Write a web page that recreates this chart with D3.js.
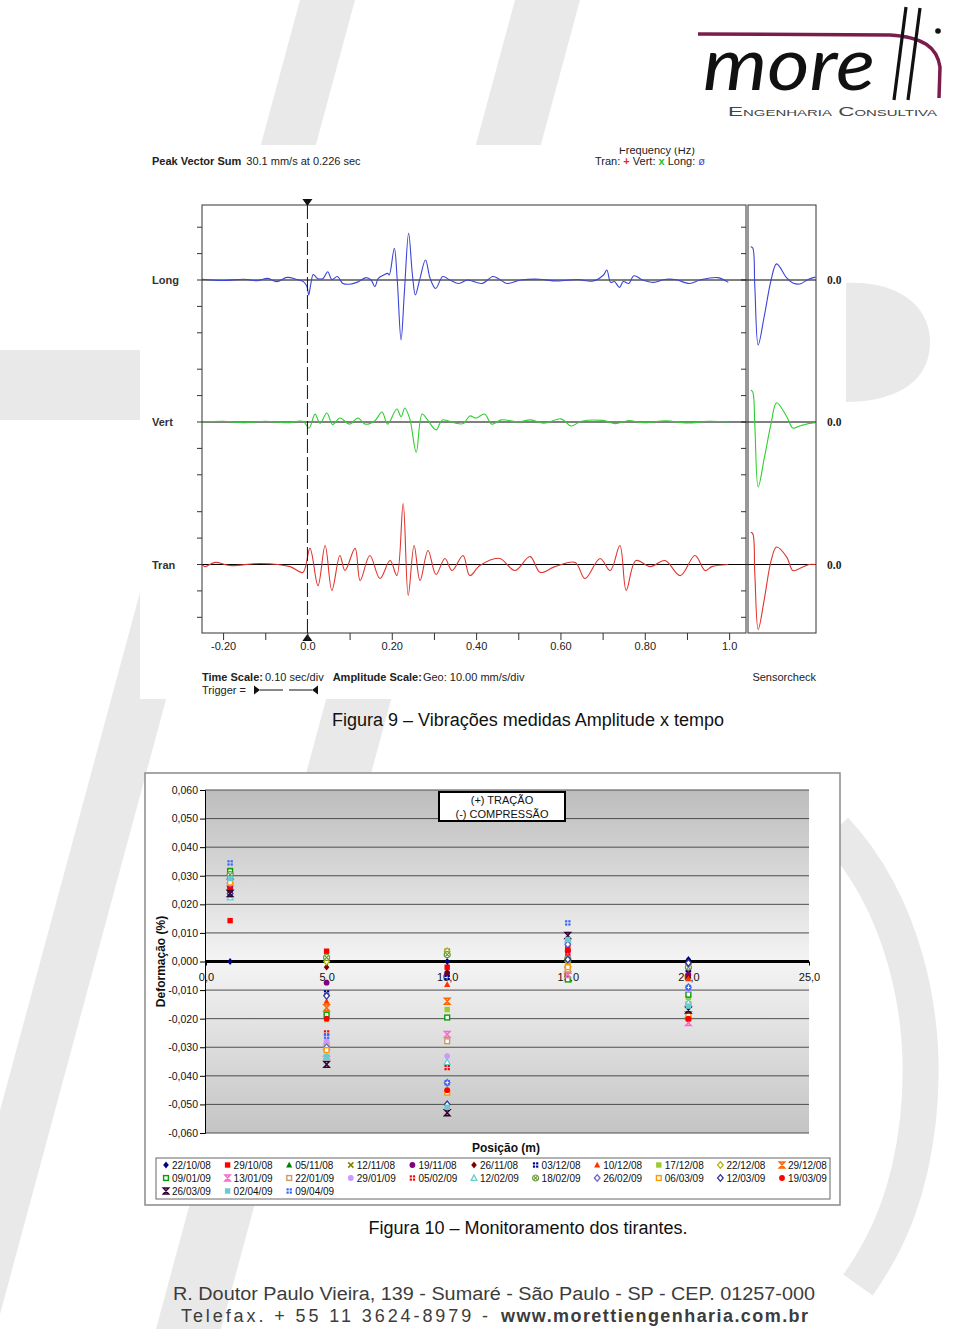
<!DOCTYPE html>
<html lang="pt-BR">
<head>
<meta charset="utf-8">
<title>Figuras 9 e 10</title>
<script src="https://cdn.jsdelivr.net/npm/d3@7/dist/d3.min.js"></script>
<style>
  html, body { margin: 0; padding: 0; background: #fff; }
  svg { display: block; }
</style>
</head>
<body>
<svg id="page"></svg>
<script>
// ---------- Figura 9: vibration record (time in s, amplitude in mm/s) ----------
const timeTicks = [-0.2, -0.1, 0, 0.1, 0.2, 0.3, 0.4, 0.5, 0.6, 0.7, 0.8, 0.9, 1.0];
const timeTickLabels = ['-0.20', '', '0.0', '', '0.20', '', '0.40', '', '0.60', '', '0.80', '', '1.0'];
const ampTicks = [-20, -10, 0, 10, 20];

const longT = [-0.25, -0.2, -0.15, -0.12, -0.094, -0.073, -0.048, -0.027, -0.0095, -0.001, 0.003, 0.008,
  0.014, 0.024, 0.037, 0.048, 0.058, 0.071, 0.084, 0.1, 0.117, 0.139, 0.151, 0.16, 0.168, 0.181, 0.19,
  0.194, 0.206, 0.213, 0.222, 0.23, 0.24, 0.249, 0.256, 0.266, 0.28, 0.291, 0.304, 0.321, 0.338, 0.359,
  0.38, 0.414, 0.44, 0.456, 0.473, 0.507, 0.55, 0.592, 0.64, 0.677, 0.702, 0.71, 0.719, 0.728, 0.74,
  0.749, 0.762, 0.774, 0.795, 0.821, 0.846, 0.872, 0.906, 0.931, 0.973, 0.998];
const longV = [0.3, -0.2, 0.3, -0.3, 0.6, -0.6, 1.0, 0.3, -0.6, -2.5, -5.7, -1.5,
  2.1, 0.6, 0.6, 3.1, 0.2, 1.3, -1.3, -1.6, -0.9, 0.9, 0, -2.5, 0.6, 1.9, 2.5,
  1.9, 12.0, 0, -22.7, -4.4, 17.7, 1.9, -5.7, 0, 7.6, 0.6, -3.2, 1.3, 0, -1.3,
  0, -1.3, 1.3, 0.2, -1.3, 0, 0.3, -0.4, 0.2, -0.4, 1.9, 3.8, -0.9, -0.6, -2.8,
  -0.6, -1.3, 1.6, 0, -0.9, 0.2, 0.2, -1.3, 0, 0.9, -0.9];

const vertT = [-0.25, -0.2, -0.15, -0.1, -0.05, -0.01, 0.004, 0.018, 0.03, 0.046, 0.06, 0.077, 0.1,
  0.12, 0.137, 0.16, 0.177, 0.19, 0.212, 0.222, 0.231, 0.243, 0.258, 0.272, 0.285, 0.305, 0.32, 0.35,
  0.37, 0.385, 0.4, 0.42, 0.437, 0.46, 0.5, 0.53, 0.56, 0.6, 0.61, 0.625, 0.65, 0.7, 0.73, 0.76, 0.8,
  0.85, 0.9, 0.95, 1.0];
const vertV = [0, 0.3, -0.3, 0.3, -0.3, 0.2, -2.3, 3.0, -0.5, 3.4, -1.0, 1.5, -0.8,
  1.5, -0.8, 0.5, 3.8, -0.8, 4.9, 2.0, 5.3, 1.0, -11.4, 3.0, 0.8, -3.0, 0.8, -0.4,
  -0.6, 2.3, 1.5, 3.0, -0.8, 0.8, 0, 0.8, -0.5, 1.2, 0.4, -1.5, 0.3, 0.6, -0.6, 0.5, -0.3,
  0.5, -0.4, 0.3, 0];

const tranT = [-0.25, -0.243, -0.219, -0.184, -0.112, -0.041, -0.011, 0.006, 0.025, 0.042, 0.058, 0.077,
  0.089, 0.113, 0.125, 0.148, 0.172, 0.196, 0.212, 0.227, 0.239, 0.253, 0.267, 0.286, 0.305, 0.326,
  0.343, 0.369, 0.385, 0.409, 0.456, 0.492, 0.528, 0.552, 0.587, 0.635, 0.658, 0.694, 0.718, 0.741,
  0.756, 0.779, 0.813, 0.848, 0.884, 0.919, 0.943, 0.959, 0.997];
const tranV = [0, -0.8, 0.8, -0.4, 0.4, -0.8, -3.0, 6.1, -8.0, 7.2, -9.8, 3.4,
  -2.3, 6.1, -6.1, 3.4, -5.3, 1.5, -4.2, 23.1, -11.7, 7.2, -6.1, 5.3, -3.8, 2.3,
  -2.3, 3.4, -4.2, -0.4, 2.3, -2.3, 3.0, -3.0, -0.8, 0.8, -5.3, 2.3, -2.3, 7.2,
  -9.8, 1.5, -0.8, 1.5, -4.2, 3.4, -2.3, -0.8, 0];

// sensor check panel (relative time 0..1)
const checkT = [0.04, 0.07, 0.1, 0.15, 0.24, 0.34, 0.42, 0.57, 0.66, 0.76, 0.9, 0.99];
const checkLong = [12.6, 12.1, -2.3, -24.6, -13.6, 0, 6.1, 0.8, -1.1, -1.5, 0.4, 1.1];
const checkVert = [12.1, 11.4, -1.1, -24.6, -13.6, -0.5, 7.3, 2.0, -2.3, -1.5, -0.6, -0.3];
const checkTran = [12.2, 11.7, -3.4, -24.6, -13.1, 1.5, 6.6, 2.8, -2.3, -1.5, 0, 0];

// ---------- Figura 10: monitoring of tie rods ----------
const posicoes = [1, 5, 10, 15, 20];
const datas = ['22/10/08', '29/10/08', '05/11/08', '12/11/08', '19/11/08', '26/11/08', '03/12/08',
  '10/12/08', '17/12/08', '22/12/08', '29/12/08', '09/01/09', '13/01/09', '22/01/09', '29/01/09',
  '05/02/09', '12/02/09', '18/02/09', '26/02/09', '06/03/09', '12/03/09', '19/03/09', '26/03/09',
  '02/04/09', '09/04/09'];
const coresSerie = ['#000080', '#ff0000', '#008000', '#808000', '#800080', '#800000', '#000099',
  '#ff3300', '#99cc33', '#b3b300', '#ff6600', '#00a000', '#ff66cc', '#cc9966', '#cc99ff',
  '#ff0000', '#66cccc', '#669933', '#6666cc', '#ff9900', '#333399', '#ff0000', '#330033',
  '#66cccc', '#3366ff'];
const formasSerie = ['diamond', 'square', 'triangle', 'times', 'circle', 'diamond', 'grid',
  'triangle', 'square', 'opendiamond', 'hourglass', 'opensquare', 'hourglass', 'opensquare', 'circle',
  'grid', 'opentriangle', 'circlex', 'opendiamond', 'opensquare', 'opendiamond', 'circle', 'hourglass',
  'square', 'grid'];
const deformacao = [
  [0.0000, 0.0000, 0.0000, 0.0010, 0.0007],
  [0.0143, 0.0036, -0.0020, 0.0049, -0.0028],
  [0.0310, 0.0010, 0.0030, -0.0004, -0.0050],
  [0.0304, 0.0014, 0.0036, 0.0007, -0.0016],
  [0.0260, -0.0074, -0.0040, 0.0036, -0.0046],
  [0.0250, -0.0020, -0.0039, -0.0056, -0.0056],
  [0.0270, -0.0110, -0.0056, 0.0066, -0.0028],
  [0.0260, -0.0139, -0.0080, 0.0049, -0.0060],
  [0.0320, -0.0203, -0.0168, -0.0014, -0.0126],
  [0.0310, 0.0000, 0.0036, 0.0000, -0.0010],
  [0.0276, -0.0162, -0.0139, -0.0030, -0.0186],
  [0.0316, -0.0186, -0.0196, -0.0063, -0.0116],
  [0.0263, -0.0320, -0.0255, -0.0046, -0.0214],
  [0.0290, -0.0294, -0.0279, -0.0028, -0.0150],
  [0.0280, -0.0279, -0.0331, 0.0020, -0.0100],
  [0.0252, -0.0250, -0.0371, 0.0030, -0.0200],
  [0.0224, -0.0333, -0.0352, 0.0077, -0.0144],
  [0.0304, 0.0014, 0.0024, 0.0010, -0.0020],
  [0.0290, -0.0300, -0.0424, 0.0060, -0.0090],
  [0.0276, -0.0310, -0.0459, -0.0020, -0.0186],
  [0.0238, -0.0120, -0.0500, 0.0007, -0.0005],
  [0.0252, -0.0200, -0.0450, 0.0040, -0.0200],
  [0.0238, -0.0360, -0.0529, 0.0091, -0.0170],
  [0.0290, -0.0333, -0.0510, 0.0077, -0.0156],
  [0.0345, -0.0261, -0.0424, 0.0135, -0.0091]
];
const yTicks2 = [-0.06, -0.05, -0.04, -0.03, -0.02, -0.01, 0, 0.01, 0.02, 0.03, 0.04, 0.05, 0.06];
const xTicks2 = [0, 5, 10, 15, 20, 25];

// ---------- drawing ----------
const W = 960, H = 1329;
const SANS = "'Liberation Sans', Arial, sans-serif";
const NARROW = "'Liberation Sans Narrow', 'Liberation Sans', Arial, sans-serif";
const SERIF = "'Liberation Serif', 'Times New Roman', serif";
const WM = '#e9e9e9';

const svg = d3.select('#page').attr('width', W).attr('height', H);
const defs = svg.append('defs');

// watermark behind everything
const wm = svg.append('g').attr('fill', WM);
wm.append('path').attr('d', 'M300,0L355,0L-4,1329L-59,1329Z');
wm.append('path').attr('d', 'M515,0L580,0L221,1329L156,1329Z');
wm.append('rect').attr('x', 0).attr('y', 350).attr('width', 140).attr('height', 70);
wm.append('path').attr('d', 'M845,283C900,280 932,308 930,345C928,385 892,402 845,402Z');
wm.append('path')
  .attr('d', 'M835,830C900,900 930,1010 918,1120C910,1190 890,1240 858,1285')
  .attr('fill', 'none').attr('stroke', WM).attr('stroke-width', 36);

// logo
const logo = svg.append('g');
logo.append('path')
  .attr('d', 'M698,34L890,35C923,37 937,47 940,67L939,98')
  .attr('fill', 'none').attr('stroke', '#7b1d4b').attr('stroke-width', 3.5);
logo.append('text')
  .attr('x', 703).attr('y', 90)
  .attr('font-family', "Lato, 'Liberation Sans', sans-serif")
  .attr('font-style', 'italic').attr('font-size', 72)
  .attr('textLength', 172).attr('lengthAdjust', 'spacingAndGlyphs')
  .attr('fill', '#111').text('more');
logo.append('line').attr('x1', 894).attr('y1', 100).attr('x2', 906).attr('y2', 7)
  .attr('stroke', '#111').attr('stroke-width', 3.2);
logo.append('line').attr('x1', 908).attr('y1', 100).attr('x2', 920).attr('y2', 8)
  .attr('stroke', '#111').attr('stroke-width', 3.2);
logo.append('circle').attr('cx', 938).attr('cy', 31).attr('r', 2.8).attr('fill', '#111');
logo.append('text')
  .attr('x', 728).attr('y', 116)
  .attr('font-family', SANS).attr('font-size', 13.5)
  .attr('font-variant', 'small-caps')
  .attr('textLength', 209).attr('lengthAdjust', 'spacingAndGlyphs')
  .attr('fill', '#444').text('Engenharia Consultiva');

// ===== Figura 9 =====
const f9 = svg.append('g').attr('font-family', NARROW);
f9.append('rect').attr('x', 140).attr('y', 145).attr('width', 706).attr('height', 554).attr('fill', '#fff');

defs.append('clipPath').attr('id', 'f9clip')
  .append('rect').attr('x', 140).attr('y', 147.5).attr('width', 706).attr('height', 552);

const head = f9.append('g').attr('font-size', 11).attr('fill', '#222');
const pvs = head.append('text').attr('x', 152).attr('y', 165);
pvs.append('tspan').attr('font-weight', 'bold').text('Peak Vector Sum');
pvs.append('tspan').attr('dx', 5).text('30.1 mm/s at 0.226 sec');
head.append('text').attr('x', 657).attr('y', 153.5).attr('text-anchor', 'middle')
  .attr('clip-path', 'url(#f9clip)').text('Frequency (Hz)');
const leg9 = head.append('text').attr('x', 595).attr('y', 165);
leg9.append('tspan').text('Tran: ');
leg9.append('tspan').attr('fill', '#e0302a').attr('font-weight', 'bold').text('+');
leg9.append('tspan').text('  Vert: ');
leg9.append('tspan').attr('fill', '#22c022').attr('font-weight', 'bold').text('x');
leg9.append('tspan').text('  Long: ');
leg9.append('tspan').attr('fill', '#3b45d6').text('ø');

const xT = d3.scaleLinear().domain([-0.25, 1.04]).range([202, 746]);
const xChk = d3.scaleLinear().domain([0, 1]).range([748, 816]);

const channels = [
  { name: 'Long', zero: 280, color: '#3b45d6', t: longT, v: longV, chk: checkLong },
  { name: 'Vert', zero: 422, color: '#2fcf2f', t: vertT, v: vertV, chk: checkVert },
  { name: 'Tran', zero: 564.5, color: '#e0342f', t: tranT, v: tranV, chk: checkTran }
];

defs.append('clipPath').attr('id', 'mainclip')
  .append('rect').attr('x', 202).attr('y', 205).attr('width', 544).attr('height', 428);
defs.append('clipPath').attr('id', 'chkclip')
  .append('rect').attr('x', 748).attr('y', 205).attr('width', 68).attr('height', 428);

channels.forEach(ch => {
  const y = d3.scaleLinear().domain([-20, 20]).range([ch.zero + 52.8, ch.zero - 52.8]);
  const g = f9.append('g');

  // tick marks: outside on the left, inside on the right of the main panel
  g.append('g').selectAll('line.l').data(ampTicks).join('line')
    .attr('x1', 197).attr('x2', 202).attr('y1', d => y(d)).attr('y2', d => y(d))
    .attr('stroke', '#333');
  g.append('g').selectAll('line.r').data(ampTicks).join('line')
    .attr('x1', 741).attr('x2', 746).attr('y1', d => y(d)).attr('y2', d => y(d))
    .attr('stroke', '#333');

  // zero line
  g.append('line').attr('x1', 202).attr('x2', 816).attr('y1', y(0)).attr('y2', y(0))
    .attr('stroke', '#000').attr('stroke-width', 1);

  const line = d3.line()
    .x(d => xT(d[0])).y(d => y(d[1]))
    .curve(d3.curveCatmullRom.alpha(0.5));
  g.append('path').datum(d3.zip(ch.t, ch.v))
    .attr('clip-path', 'url(#mainclip)')
    .attr('d', line).attr('fill', 'none')
    .attr('stroke', ch.color).attr('stroke-width', 1.1);

  const chkLine = d3.line()
    .x(d => xChk(d[0])).y(d => y(d[1]))
    .curve(d3.curveCatmullRom.alpha(0.5));
  g.append('path').datum(d3.zip(checkT, ch.chk))
    .attr('clip-path', 'url(#chkclip)')
    .attr('d', chkLine).attr('fill', 'none')
    .attr('stroke', ch.color).attr('stroke-width', 1.1);

  g.append('text').attr('x', 152).attr('y', y(0) + 4)
    .attr('font-size', 11).attr('font-weight', 'bold').attr('fill', '#333').text(ch.name);
  g.append('text').attr('x', 827).attr('y', y(0) + 4)
    .attr('font-family', SERIF).attr('font-size', 11.5).attr('font-weight', 'bold')
    .attr('fill', '#222').text('0.0');
});

// frames
f9.append('rect').attr('x', 202).attr('y', 205).attr('width', 544).attr('height', 428)
  .attr('fill', 'none').attr('stroke', '#333').attr('stroke-width', 1);
f9.append('rect').attr('x', 748).attr('y', 205).attr('width', 68).attr('height', 428)
  .attr('fill', 'none').attr('stroke', '#333').attr('stroke-width', 1);

// trigger line at t = 0
f9.append('line').attr('x1', xT(0)).attr('x2', xT(0)).attr('y1', 205).attr('y2', 633)
  .attr('stroke', '#111').attr('stroke-width', 1).attr('stroke-dasharray', '14,4');
f9.append('path').attr('d', `M${xT(0) - 5},199L${xT(0) + 5},199L${xT(0)},206Z`).attr('fill', '#111');
f9.append('path').attr('d', `M${xT(0) - 5},641L${xT(0) + 5},641L${xT(0)},634Z`).attr('fill', '#111');

// time axis
const axT = f9.append('g').attr('transform', 'translate(0,633)')
  .call(d3.axisBottom(xT).tickValues(timeTicks).tickSize(7).tickPadding(2)
    .tickFormat((d, i) => timeTickLabels[i]));
axT.select('.domain').remove();
axT.selectAll('line').attr('stroke', '#333');
axT.selectAll('text').attr('font-family', NARROW).attr('font-size', 11).attr('fill', '#222');

// scale notes
const notes = f9.append('g').attr('font-size', 11).attr('fill', '#222');
const ts = notes.append('text').attr('x', 202).attr('y', 681);
ts.append('tspan').attr('font-weight', 'bold').text('Time Scale:');
ts.append('tspan').attr('dx', 2).text('0.10 sec/div');
ts.append('tspan').attr('dx', 9).attr('font-weight', 'bold').text('Amplitude Scale:');
ts.append('tspan').attr('dx', 1).text('Geo: 10.00 mm/s/div');
notes.append('text').attr('x', 816).attr('y', 681).attr('text-anchor', 'end').text('Sensorcheck');
notes.append('text').attr('x', 202).attr('y', 694).text('Trigger =');
notes.append('path').attr('d', 'M254,685.5L254,694.5L260,690Z').attr('fill', '#111');
notes.append('line').attr('x1', 260).attr('x2', 283).attr('y1', 690).attr('y2', 690).attr('stroke', '#111');
notes.append('line').attr('x1', 289).attr('x2', 312).attr('y1', 690).attr('y2', 690).attr('stroke', '#111');
notes.append('path').attr('d', 'M318,685.5L318,694.5L312,690Z').attr('fill', '#111');

svg.append('text').attr('x', 528).attr('y', 726).attr('text-anchor', 'middle')
  .attr('font-family', SANS).attr('font-size', 18).attr('fill', '#111')
  .text('Figura 9 – Vibrações medidas Amplitude x tempo');

// ===== Figura 10 =====
const f10 = svg.append('g').attr('font-family', SANS);
f10.append('rect').attr('x', 145).attr('y', 773).attr('width', 695).attr('height', 432)
  .attr('fill', '#fff').attr('stroke', '#8a8a8a').attr('stroke-width', 1.5);

const x2 = d3.scaleLinear().domain([0, 25]).range([206, 809]);
const y2 = d3.scaleLinear().domain([-0.06, 0.06]).range([1133, 790]);
const loc = d3.formatLocale({ decimal: ',', thousands: '.', grouping: [3], currency: ['R$', ''], minus: '-' });

const grad = defs.append('linearGradient').attr('id', 'plotbg')
  .attr('x1', 0).attr('y1', 0).attr('x2', 0).attr('y2', 1);
grad.append('stop').attr('offset', '0%').attr('stop-color', '#bdbdbd');
grad.append('stop').attr('offset', '50%').attr('stop-color', '#f4f4f4');
grad.append('stop').attr('offset', '100%').attr('stop-color', '#c4c4c4');

f10.append('rect').attr('x', x2(0) - 1).attr('y', y2(0.06))
  .attr('width', x2(25) - x2(0) + 1).attr('height', y2(-0.06) - y2(0.06))
  .attr('fill', 'url(#plotbg)');

f10.append('g').selectAll('line').data(yTicks2.filter(d => d !== 0)).join('line')
  .attr('x1', x2(0) - 1).attr('x2', x2(25))
  .attr('y1', d => y2(d)).attr('y2', d => y2(d))
  .attr('stroke', '#4d4d4d').attr('stroke-width', 1);

const axY2 = f10.append('g').attr('transform', `translate(${x2(0) - 1},0)`)
  .call(d3.axisLeft(y2).tickValues(yTicks2).tickSize(5).tickPadding(2).tickFormat(loc.format('.3f')));
axY2.selectAll('path,line').attr('stroke', '#000');
axY2.selectAll('text').attr('font-family', SANS).attr('font-size', 10.5).attr('fill', '#111');

// zero axis with position labels
f10.append('line').attr('x1', x2(0) - 1).attr('x2', x2(25)).attr('y1', y2(0)).attr('y2', y2(0))
  .attr('stroke', '#000').attr('stroke-width', 3);
const axX2 = f10.append('g').attr('transform', `translate(0,${y2(0)})`)
  .call(d3.axisBottom(x2).tickValues(xTicks2).tickSize(4).tickPadding(8).tickFormat(loc.format('.1f')));
axX2.select('.domain').remove();
axX2.selectAll('line').attr('stroke', '#000');
axX2.selectAll('text').attr('font-family', SANS).attr('font-size', 11).attr('fill', '#111');

function drawMarker(sel, shape, color) {
  switch (shape) {
    case 'diamond':
      sel.append('path').attr('d', 'M0,-3.4L2.8,0L0,3.4L-2.8,0Z').attr('fill', color); break;
    case 'square':
      sel.append('rect').attr('x', -2.7).attr('y', -2.7).attr('width', 5.4).attr('height', 5.4).attr('fill', color); break;
    case 'triangle':
      sel.append('path').attr('d', 'M0,-3.3L3.1,2.6L-3.1,2.6Z').attr('fill', color); break;
    case 'times':
      sel.append('path').attr('d', 'M-2.6,-2.6L2.6,2.6M2.6,-2.6L-2.6,2.6')
        .attr('stroke', color).attr('stroke-width', 1.5).attr('fill', 'none'); break;
    case 'circle':
      sel.append('circle').attr('r', 2.9).attr('fill', color); break;
    case 'grid':
      [[-2.7, -2.7], [0.5, -2.7], [-2.7, 0.5], [0.5, 0.5]].forEach(([dx, dy]) =>
        sel.append('rect').attr('x', dx).attr('y', dy).attr('width', 2.2).attr('height', 2.2).attr('fill', color));
      break;
    case 'hourglass':
      sel.append('path').attr('d', 'M-2.8,-3H2.8L-2.8,3H2.8Z')
        .attr('fill', color).attr('fill-opacity', 0.35)
        .attr('stroke', color).attr('stroke-width', 1.4); break;
    case 'opendiamond':
      sel.append('path').attr('d', 'M0,-3.3L2.8,0L0,3.3L-2.8,0Z')
        .attr('fill', '#fff').attr('stroke', color).attr('stroke-width', 1.3); break;
    case 'opensquare':
      sel.append('rect').attr('x', -2.4).attr('y', -2.4).attr('width', 4.8).attr('height', 4.8)
        .attr('fill', '#fff').attr('stroke', color).attr('stroke-width', 1.4); break;
    case 'opentriangle':
      sel.append('path').attr('d', 'M0,-3.1L2.9,2.4L-2.9,2.4Z')
        .attr('fill', '#fff').attr('stroke', color).attr('stroke-width', 1.2); break;
    case 'circlex':
      sel.append('circle').attr('r', 3).attr('fill', '#fff').attr('stroke', color).attr('stroke-width', 1.2);
      sel.append('path').attr('d', 'M-1.8,-1.8L1.8,1.8M1.8,-1.8L-1.8,1.8')
        .attr('stroke', color).attr('stroke-width', 1.1); break;
  }
}

const pontos = [];
datas.forEach((d, s) => {
  posicoes.forEach((p, i) => {
    pontos.push({ serie: s, x: p, v: deformacao[s][i] });
  });
});

f10.append('g').selectAll('g').data(pontos).join('g')
  .attr('transform', d => `translate(${x2(d.x)},${y2(d.v)})`)
  .each(function (d) { drawMarker(d3.select(this), formasSerie[d.serie], coresSerie[d.serie]); });

// sign convention box
f10.append('rect').attr('x', 439).attr('y', 792).attr('width', 126).attr('height', 29)
  .attr('fill', '#fff').attr('stroke', '#000').attr('stroke-width', 2);
f10.append('text').attr('x', 502).attr('y', 804).attr('text-anchor', 'middle')
  .attr('font-size', 11).attr('fill', '#111').text('(+) TRAÇÃO');
f10.append('text').attr('x', 502).attr('y', 818).attr('text-anchor', 'middle')
  .attr('font-size', 11).attr('fill', '#111').text('(-) COMPRESSÃO');

// axis titles
f10.append('text').attr('transform', `translate(165,${y2(0)}) rotate(-90)`)
  .attr('text-anchor', 'middle').attr('font-size', 12).attr('font-weight', 'bold')
  .attr('fill', '#111').text('Deformação (%)');
f10.append('text').attr('x', 506).attr('y', 1152).attr('text-anchor', 'middle')
  .attr('font-size', 12).attr('font-weight', 'bold').attr('fill', '#111').text('Posição (m)');

// series legend
f10.append('rect').attr('x', 156).attr('y', 1158).attr('width', 674).attr('height', 41)
  .attr('fill', '#fff').attr('stroke', '#666').attr('stroke-width', 1);
const legItems = f10.append('g').selectAll('g').data(datas).join('g')
  .attr('transform', (d, i) => `translate(${166 + (i % 11) * 61.6},${1165 + Math.floor(i / 11) * 13})`);
legItems.each(function (d, i) { drawMarker(d3.select(this), formasSerie[i], coresSerie[i]); });
legItems.append('text').attr('x', 6).attr('y', 3.6)
  .attr('font-size', 10).attr('fill', '#111').text(d => d);

svg.append('text').attr('x', 528).attr('y', 1234).attr('text-anchor', 'middle')
  .attr('font-family', SANS).attr('font-size', 18).attr('fill', '#111')
  .text('Figura 10 – Monitoramento dos tirantes.');

// footer
const foot = svg.append('g').attr('font-family', SANS).attr('font-size', 18).attr('fill', '#3c3c3c');
foot.append('text').attr('x', 173).attr('y', 1300)
  .attr('textLength', 642).attr('lengthAdjust', 'spacingAndGlyphs')
  .text('R. Doutor Paulo Vieira, 139 - Sumaré - São Paulo  - SP -  CEP. 01257-000');
foot.append('text').attr('x', 181).attr('y', 1322)
  .attr('textLength', 307).attr('lengthAdjust', 'spacing')
  .text('Telefax. + 55 11 3624-8979 -');
foot.append('text').attr('x', 501).attr('y', 1322).attr('font-weight', 'bold')
  .attr('textLength', 307).attr('lengthAdjust', 'spacing')
  .text('www.morettiengenharia.com.br');
</script>
</body>
</html>
